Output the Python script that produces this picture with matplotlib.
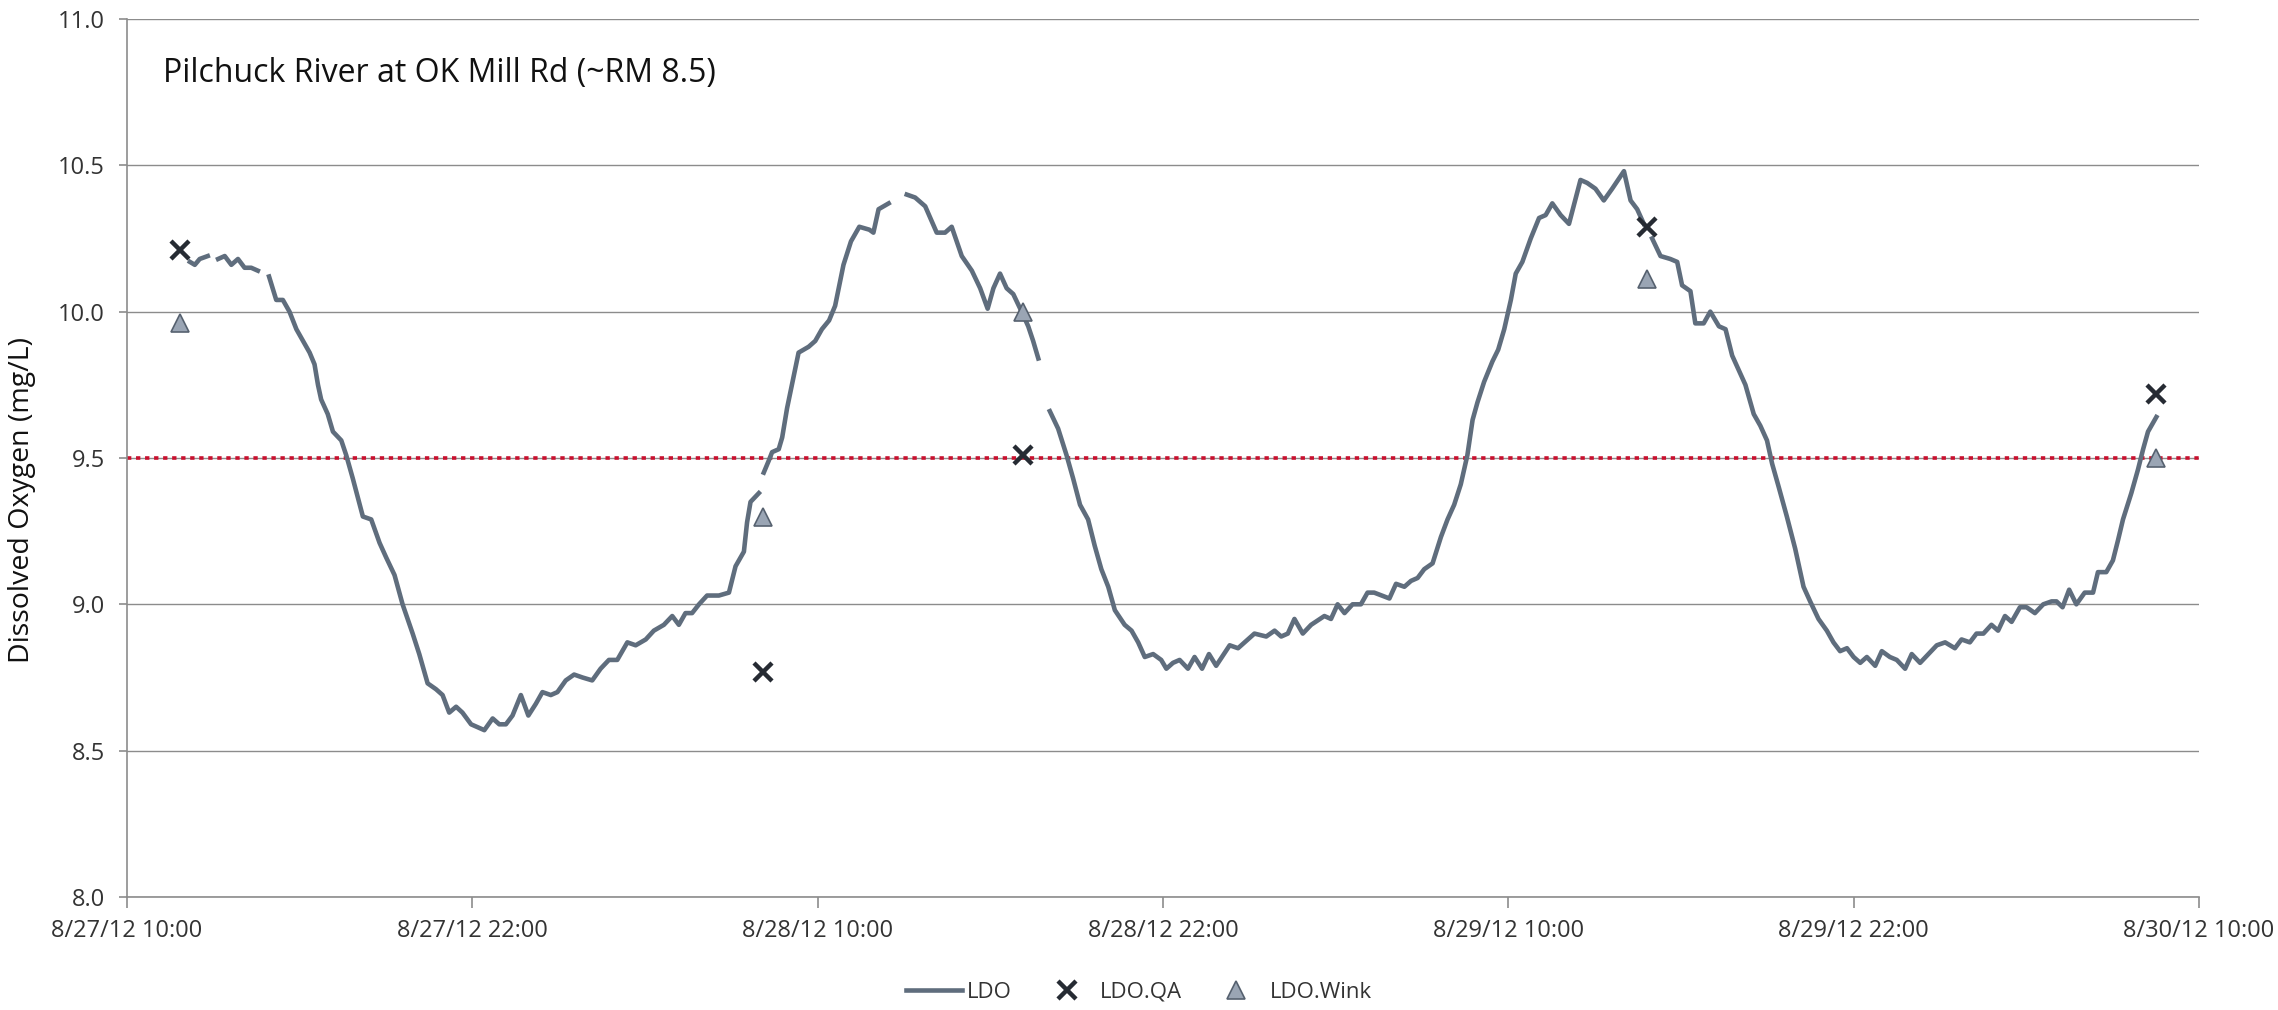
import matplotlib.pyplot as plt
import matplotlib.ticker as mticker
import matplotlib.dates as mdates
import numpy as np
from datetime import datetime, timedelta

# logger readings, hours after 8/27/12 10:00 (None = missing reading)
ldo_hours = [
    2.19, 2.36, 2.53, 2.81, 3.0,
    3.17, 3.40, 3.63, 3.86, 4.09, 4.32, 4.55, 4.75,
    4.94, 5.19, 5.42, 5.65, 5.89, 6.12, 6.35, 6.52, 6.64, 6.75, 6.98, 7.16,
    7.45, 7.62, 7.85, 8.20, 8.49, 8.78, 9.01, 9.30, 9.58, 9.93, 10.16, 10.45,
    10.74, 10.97, 11.20, 11.44, 11.66, 11.96, 12.19, 12.42, 12.71, 12.94,
    13.17, 13.40, 13.69, 13.95, 14.21, 14.44, 14.73, 14.96, 15.25, 15.54,
    15.83, 16.17, 16.46, 16.75, 17.04, 17.39, 17.68, 18.03, 18.31, 18.66,
    18.95, 19.18, 19.41, 19.64, 19.88, 20.16, 20.57, 20.92, 21.15, 21.44,
    21.55, 21.67, 21.96, 22.05,
    22.13, 22.30, 22.42, 22.65, 22.77, 22.94, 23.11, 23.34, 23.69, 23.92,
    24.15, 24.40, 24.61, 24.90, 25.16, 25.45, 25.80, 25.94, 26.12, 26.47, 26.8,
    27.10, 27.39, 27.74, 28.14, 28.43, 28.66, 29.01, 29.36, 29.65, 29.91,
    30.11, 30.34, 30.57, 30.80, 31.09, 31.32, 31.49, 31.67, 31.9,
    32.07, 32.36, 32.65, 32.88, 33.12, 33.40, 33.63, 33.86, 34.10, 34.33,
    34.67, 34.91, 35.14, 35.37, 35.66, 35.94, 36.12, 36.35, 36.58, 36.87,
    37.10, 37.36, 37.60, 37.85, 38.32, 38.61, 39.18, 39.59, 39.88, 40.11,
    40.34, 40.57, 40.86, 41.15, 41.61, 41.84, 42.07, 42.31, 42.59, 42.88,
    43.11, 43.34, 43.87, 44.10, 44.39, 44.62, 44.85, 45.08, 45.37, 45.66,
    45.89, 46.12, 46.35, 46.58, 46.76, 46.93, 47.16, 47.45, 47.65, 47.86,
    48.09, 48.26, 48.49, 48.78, 49.07, 49.30, 49.53, 49.82, 50.11, 50.51,
    50.74, 51.03, 51.32, 51.61, 52.02, 52.25, 52.48, 52.71, 52.85,
    53.00, 53.29, 53.63, 53.87, 54.04, 54.33, 54.50, 54.79, 55.02, 55.32,
    55.55, 55.78, 56.01, 56.24, 56.53, 56.76, 56.99, 57.17, 57.40, 57.68,
    57.97, 58.26, 58.49, 58.78, 59.07, 59.30, 59.53, 59.77, 60.00, 60.23,
    60.46, 60.75, 60.98, 61.26, 61.50, 61.79, 62.02, 62.31, 62.60, 62.89,
    63.18, 63.52, 63.75, 64.04, 64.27, 64.51, 64.79, 65.02, 65.26, 65.49,
    65.78, 66.01, 66.30, 66.59, 66.88, 67.05, 67.26, 67.49, 67.74, 68.03,
    68.32, 68.49, 68.78, 69.01, 69.19, 69.36, 69.65, 69.88, 70.06, 70.23,
    70.52,
]
ldo_do = [
    10.17, 10.16, 10.18, 10.19, None,
    10.18, 10.19, 10.16, 10.18, 10.15, 10.15, 10.14, None,
    10.12, 10.04, 10.04, 10.00, 9.94, 9.90, 9.86, 9.82, 9.75, 9.70, 9.65, 9.59,
    9.56, 9.51, 9.43, 9.30, 9.29, 9.21, 9.16, 9.10, 9.00, 8.90, 8.83, 8.73,
    8.71, 8.69, 8.63, 8.65, 8.63, 8.59, 8.58, 8.57, 8.61, 8.59,
    8.59, 8.62, 8.69, 8.62, 8.66, 8.70, 8.69, 8.70, 8.74, 8.76,
    8.75, 8.74, 8.78, 8.81, 8.81, 8.87, 8.86, 8.88, 8.91, 8.93,
    8.96, 8.93, 8.97, 8.97, 9.00, 9.03, 9.03, 9.04, 9.13, 9.18,
    9.28, 9.35, 9.38, None,
    9.45, 9.49, 9.52, 9.53, 9.57, 9.67, 9.75, 9.86, 9.88, 9.90,
    9.94, 9.97, 10.02, 10.16, 10.24, 10.29, 10.28, 10.27, 10.35, 10.37, None,
    10.40, 10.39, 10.36, 10.27, 10.27, 10.29, 10.19, 10.14, 10.08, 10.01,
    10.08, 10.13, 10.08, 10.06, 10.00, 9.95, 9.90, 9.84, None,
    9.66, 9.60, 9.51, 9.43, 9.34, 9.29, 9.20, 9.12, 9.06, 8.98,
    8.93, 8.91, 8.87, 8.82, 8.83, 8.81, 8.78, 8.80, 8.81, 8.78,
    8.82, 8.78, 8.83, 8.79, 8.86, 8.85, 8.90, 8.89, 8.91, 8.89,
    8.90, 8.95, 8.90, 8.93, 8.96, 8.95, 9.00, 8.97, 9.00, 9.00,
    9.04, 9.04, 9.02, 9.07, 9.06, 9.08, 9.09, 9.12, 9.14, 9.23,
    9.29, 9.34, 9.41, 9.51, 9.63, 9.69, 9.76, 9.83, 9.87, 9.94,
    10.04, 10.13, 10.17, 10.25, 10.32, 10.33, 10.37, 10.33, 10.30, 10.45,
    10.44, 10.42, 10.38, 10.42, 10.48, 10.38, 10.35, 10.30, None,
    10.25, 10.19, 10.18, 10.17, 10.09, 10.07, 9.96, 9.96, 10.00, 9.95,
    9.94, 9.85, 9.80, 9.75, 9.65, 9.61, 9.56, 9.48, 9.40, 9.30,
    9.19, 9.06, 9.01, 8.95, 8.91, 8.87, 8.84, 8.85, 8.82, 8.80,
    8.82, 8.79, 8.84, 8.82, 8.81, 8.78, 8.83, 8.80, 8.83, 8.86,
    8.87, 8.85, 8.88, 8.87, 8.90, 8.90, 8.93, 8.91, 8.96, 8.94,
    8.99, 8.99, 8.97, 9.00, 9.01, 9.01, 8.99, 9.05, 9.00, 9.04,
    9.04, 9.11, 9.11, 9.15, 9.22, 9.29, 9.38, 9.46, 9.53, 9.59,
    9.64,
]

# spot checks: QA sonde and Winkler titration
check_hours = [1.85, 22.09, 31.15, 52.83, 70.52]
qa_do = [10.21, 8.77, 9.51, 10.29, 9.72]
wink_do = [9.96, 9.30, 10.00, 10.11, 9.50]

criterion = 9.5
tick_hours = [0, 12, 24, 36, 48, 60, 72]
site_name = "Pilchuck River at OK Mill Rd (~RM 8.5)"

start = datetime(2012, 8, 27, 10, 0)


def to_time(hours):
    return [start + timedelta(hours=h) for h in hours]


def fmt_date(x, pos=None):
    d = mdates.num2date(x)
    return f"{d.month}/{d.day}/{d:%y} {d:%H:%M}"


plt.rcParams['font.family'] = ['Open Sans', 'DejaVu Sans']

fig = plt.figure(figsize=(22.78, 10.10), dpi=100)
ax = fig.add_axes([0.0557, 0.1119, 0.9096, 0.8693])

grid_col = '#8c8c8c'
ax.set_ylim(8.0, 11.0)
ax.set_yticks(np.arange(8.0, 11.01, 0.5))
ax.yaxis.set_major_formatter(mticker.FormatStrFormatter('%.1f'))
ax.grid(axis='y', color=grid_col, lw=1.0, zorder=0)
ax.set_axisbelow(True)

ax.set_xlim(to_time([tick_hours[0]])[0], to_time([tick_hours[-1]])[0])
ax.set_xticks(to_time(tick_hours))
ax.xaxis.set_major_formatter(mticker.FuncFormatter(fmt_date))

for side in ['top', 'right']:
    ax.spines[side].set_visible(False)
for side in ['left', 'bottom']:
    ax.spines[side].set_color(grid_col)
    ax.spines[side].set_linewidth(1.2)

ax.tick_params(axis='x', length=8, width=1.2, color=grid_col, pad=8,
               labelsize=17, labelcolor='#333333')
ax.tick_params(axis='y', length=6, width=1.2, color=grid_col, pad=10,
               labelsize=17, labelcolor='#333333')

# 9.5 mg/L criterion
ax.axhline(criterion, color='#c8102e', lw=2.6, dashes=(1.2, 1.3), zorder=2)

do_vals = np.array([np.nan if v is None else v for v in ldo_do])
ax.plot(to_time(ldo_hours), do_vals, color='#5f6d7d', lw=3.3, label='LDO', zorder=3)
ax.plot(to_time(check_hours), qa_do, ls='none', marker='x', ms=13, mew=3.2,
        color='#262b33', label='LDO.QA', zorder=4)
ax.plot(to_time(check_hours), wink_do, ls='none', marker='^', ms=13,
        mfc='#9aa5b4', mec='#56616f', mew=1.2, label='LDO.Wink', zorder=5)

ax.text(0.0175, 0.938, site_name, transform=ax.transAxes, fontsize=23,
        color='#111111', ha='left', va='center')

fig.text(22 / 2278, 0.505, 'Dissolved Oxygen (mg/L)', rotation=90,
         fontsize=20.5, color='#111111', ha='center', va='center')

fig.legend(loc='center', bbox_to_anchor=(0.5, 0.0178), ncol=3, frameon=False,
           fontsize=16, handlelength=2.5, handletextpad=0.25, columnspacing=1.2,
           labelcolor='#333333')

fig.savefig('out.png', dpi=100)
